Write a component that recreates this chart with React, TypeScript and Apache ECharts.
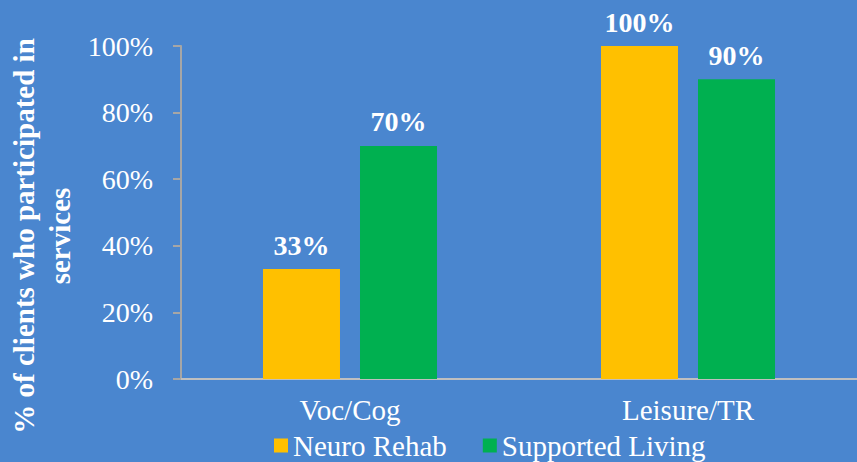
import React, { useEffect, useRef } from "react";
import * as echarts from "echarts";

const categories = ["Voc/Cog", "Leisure/TR"];
const neuroRehab = [33, 100];
const supportedLiving = [70, 90];
const yTicks = [0, 20, 40, 60, 80, 100];
const seriesNames = ["Neuro Rehab", "Supported Living"];
const axisTitle = "% of clients who participated in\nservices";

const FONT = "'Liberation Serif', 'Times New Roman', serif";

export default function App() {
  const ref = useRef<HTMLDivElement>(null);
  useEffect(() => {
    if (!ref.current) return;
    const chart = echarts.init(ref.current, undefined, { renderer: "svg" });
    const labelStyle = {
      show: true,
      position: "top" as const,
      distance: 10,
      color: "#ffffff",
      fontFamily: FONT,
      fontWeight: "bold" as const,
      fontSize: 28,
      formatter: (p: any) => p.value + "%",
    };
    chart.setOption({
      animation: false,
      backgroundColor: "#4A86CF",
      textStyle: { fontFamily: FONT },
      grid: { left: 181, right: 0, top: 46, bottom: 83, containLabel: false },
      legend: {
        left: 274,
        top: 431,
        padding: 0,
        itemWidth: 14,
        itemHeight: 14,
        itemGap: 36,
        icon: "rect",
        textStyle: { color: "#ffffff", fontSize: 29, fontFamily: FONT },
        data: seriesNames,
      },
      graphic: [
        {
          type: "text",
          x: 42,
          y: 236,
          rotation: Math.PI / 2,
          style: {
            text: axisTitle,
            fill: "#ffffff",
            font: "bold 29px " + FONT,
            align: "center",
            verticalAlign: "middle",
            lineHeight: 36,
          },
        },
      ],
      xAxis: {
        type: "category",
        data: categories,
        axisLine: { lineStyle: { color: "#BFBFBF", width: 2 } },
        axisTick: { show: false },
        axisLabel: { color: "#ffffff", fontSize: 29, fontFamily: FONT, margin: 16 },
      },
      yAxis: {
        type: "value",
        min: yTicks[0],
        max: yTicks[yTicks.length - 1],
        interval: 20,
        axisLine: { show: true, lineStyle: { color: "#A6A6A6", width: 2 } },
        axisTick: { show: true, length: 8, lineStyle: { color: "#A6A6A6", width: 2 } },
        splitLine: { show: false },
        axisLabel: {
          color: "#ffffff",
          fontSize: 28,
          fontFamily: FONT,
          margin: 28,
          formatter: (v: number) => v + "%",
        },
      },
      series: [
        {
          name: seriesNames[0],
          type: "bar",
          data: neuroRehab,
          itemStyle: { color: "#FFC000" },
          barWidth: 77,
          barGap: "26%",
          label: labelStyle,
        },
        {
          name: seriesNames[1],
          type: "bar",
          data: supportedLiving,
          itemStyle: { color: "#00B050" },
          barWidth: 77,
          barGap: "26%",
          label: labelStyle,
        },
      ],
    });
    return () => chart.dispose();
  }, []);
  return (
    <div
      ref={ref}
      style={{ position: "absolute", left: 0, top: 0, width: 857, height: 462 }}
    />
  );
}
